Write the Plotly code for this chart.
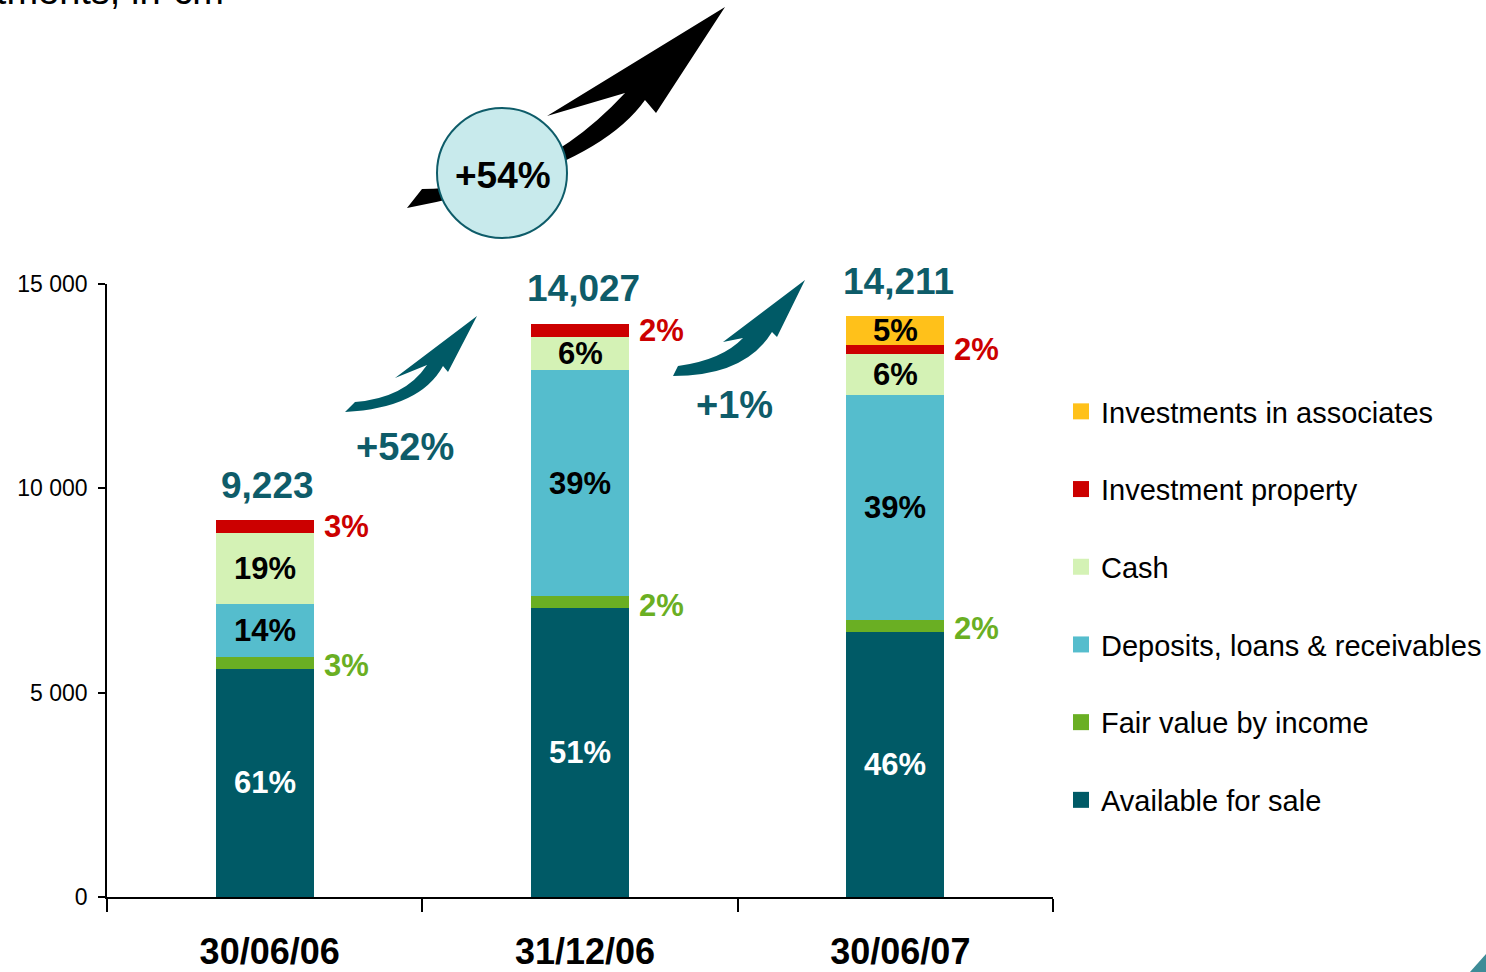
import plotly.graph_objects as go

# ---------------- data ----------------
categories = ["30/06/06", "31/12/06", "30/06/07"]
available_for_sale = [5580, 7070, 6490]
fair_value_by_income = [300, 295, 295]
deposits_loans = [1280, 5530, 5505]
cash = [1745, 810, 1000]
investment_property = [318, 322, 220]
investments_in_associates = [0, 0, 701]

pct_afs = ["61%", "51%", "46%"]
pct_fv = ["3%", "2%", "2%"]
pct_dep = ["14%", "39%", "39%"]
pct_cash = ["19%", "6%", "6%"]
pct_ip = ["3%", "2%", "2%"]
pct_ia = ["", "", "5%"]

growth_labels = ["+52%", "+1%", "+54%"]
title_text = "Investments, in €m"
y_ticks = [0, 5000, 10000, 15000]
y_tick_text = ["0", "5 000", "10 000", "15 000"]

# ---------------- styles ----------------
FONT = "Liberation Sans, Arial, sans-serif"
C_AFS = "#005A66"
C_FV = "#6AAF23"
C_DEP = "#55BDCD"
C_CASH = "#D4F2B5"
C_IP = "#CC0000"
C_IA = "#FFC11A"
C_TEAL_TXT = "#0E5C69"

W, H = 1486, 972
ML, MR, MT, MB = 107, 433, 284, 75
PW, PH = W - ML - MR, H - MT - MB


def paper(px, py):
    return (px - ML) / PW, (H - MB - py) / PH


def fmt(p):
    x, y = paper(*p)
    return f"{x:.5f},{y:.5f}"


def path_cmds(cmds):
    """cmds: list of (letter, [points in pixels]); L segments are split per point."""
    parts = []
    for letter, pts in cmds:
        if letter in ("L", "M"):
            for k, p in enumerate(pts):
                parts.append(("M" if (letter == "M" and k == 0) else "L") + fmt(p))
        else:
            parts.append(letter + fmt(pts[0]) + " " + fmt(pts[1]))
    return "".join(parts) + "Z"


series = [
    ("Available for sale", available_for_sale, C_AFS),
    ("Fair value by income", fair_value_by_income, C_FV),
    ("Deposits, loans & receivables", deposits_loans, C_DEP),
    ("Cash", cash, C_CASH),
    ("Investment property", investment_property, C_IP),
    ("Investments in associates", investments_in_associates, C_IA),
]

fig = go.Figure()
for i, (name, vals, col) in enumerate(series):
    fig.add_trace(go.Bar(
        x=categories, y=vals, name=name, marker=dict(color=col, line=dict(width=0)),
        showlegend=False, hoverinfo="skip",
    ))
n = len(series)
for i, (name, vals, col) in enumerate(series):
    fig.add_trace(go.Scatter(
        x=[None], y=[None], mode="markers", name=name,
        marker=dict(symbol="square", size=16, color=col, line=dict(width=0)),
        legendgroup=name, legendrank=100 + (n - i), hoverinfo="skip",
    ))

annotations = []
bottoms = [0, 0, 0]
seg_info = []
for name, vals, col in series:
    mids = []
    for j, v in enumerate(vals):
        mids.append(bottoms[j] + v / 2)
        bottoms[j] += v
    seg_info.append(mids)
totals = bottoms[:]

inside = [(0, pct_afs, "white"), (2, pct_dep, "black"), (3, pct_cash, "black"), (5, pct_ia, "black")]
for idx, labels, col in inside:
    for j, lab in enumerate(labels):
        if not lab:
            continue
        annotations.append(dict(x=categories[j], y=seg_info[idx][j], xref="x", yref="y",
                                text=f"<b>{lab}</b>", showarrow=False,
                                xanchor="center", yanchor="middle",
                                font=dict(family=FONT, size=31, color=col)))

outside = [(1, pct_fv, C_FV, 3), (4, pct_ip, C_IP, 0)]
for idx, labels, col, ysh in outside:
    for j, lab in enumerate(labels):
        annotations.append(dict(x=categories[j], y=seg_info[idx][j], xref="x", yref="y",
                                text=f"<b>{lab}</b>", showarrow=False, xanchor="left",
                                yanchor="middle", xshift=57, yshift=-ysh,
                                font=dict(family=FONT, size=31, color=col)))

for j, t in enumerate(totals):
    annotations.append(dict(x=categories[j], y=t, xref="x", yref="y",
                            text=f"<b>{t:,.0f}</b>", showarrow=False, yshift=35, xshift=3,
                            xanchor="center", yanchor="middle",
                            font=dict(family=FONT, size=37, color=C_TEAL_TXT)))


def paper_text(px, py, text, size, color, bold=True, xanchor="center", yanchor="middle"):
    x, y = paper(px, py)
    annotations.append(dict(x=x, y=y, xref="paper", yref="paper",
                            text=f"<b>{text}</b>" if bold else text,
                            showarrow=False, xanchor=xanchor, yanchor=yanchor,
                            font=dict(family=FONT, size=size, color=color)))


paper_text(405, 447, growth_labels[0], 38, C_TEAL_TXT)
paper_text(734, 405, growth_labels[1], 38, C_TEAL_TXT)

shapes = []
# big black curved arrow
big_arrow = [
    ("M", [(407, 208), (422, 189)]),
    ("Q", [(536, 189), (625, 93)]),
    ("L", [(547, 116), (725, 7), (656, 113), (645, 100)]),
    ("Q", [(594, 172), (407, 208)]),
]
shapes.append(dict(type="path", xref="paper", yref="paper", path=path_cmds(big_arrow),
                   fillcolor="black", line=dict(width=0), layer="above"))
cx0, cy0 = paper(437, 238)
cx1, cy1 = paper(567, 108)
shapes.append(dict(type="circle", xref="paper", yref="paper", x0=cx0, y0=cy0, x1=cx1, y1=cy1,
                   fillcolor="#C8EAEC", line=dict(color="#0E5C69", width=2), layer="above"))
paper_text(503, 175, growth_labels[2], 37, "black")

arrow1 = [
    ("M", [(345, 412), (355, 402)]),
    ("Q", [(405, 398), (427, 365)]),
    ("L", [(395, 378), (477, 316), (448, 372), (443, 366)]),
    ("Q", [(420, 408), (345, 412)]),
]
arrow2 = [
    ("M", [(673, 376), (678, 366)]),
    ("Q", [(722, 360), (743, 338)]),
    ("L", [(723, 342), (805, 280), (777, 337), (772, 332)]),
    ("Q", [(745, 376), (673, 376)]),
]
for arr in (arrow1, arrow2):
    shapes.append(dict(type="path", xref="paper", yref="paper", path=path_cmds(arr),
                       fillcolor="#005A66", line=dict(width=0), layer="above"))

shapes.append(dict(type="path", xref="paper", yref="paper",
                   path=path_cmds([("M", [(1470, 972), (1486, 954), (1486, 972)])]),
                   fillcolor="#3E8C97", line=dict(width=0), layer="above"))

# cut-off title at the very top
paper_text(226, 14, title_text, 38, "black", bold=False, xanchor="right", yanchor="bottom")

lx, ly = paper(1061, 386)
fig.update_layout(
    width=W, height=H,
    margin=dict(l=ML, r=MR, t=MT, b=MB, pad=0, autoexpand=False),
    barmode="stack", bargap=0.69,
    plot_bgcolor="white", paper_bgcolor="white",
    font=dict(family=FONT, color="black"),
    showlegend=True,
    legend=dict(x=lx, y=ly, xanchor="left", yanchor="top", traceorder="grouped",
                tracegroupgap=37, font=dict(family=FONT, size=29, color="black"),
                bgcolor="rgba(0,0,0,0)", itemclick=False, itemdoubleclick=False),
    xaxis=dict(type="category", showline=True, linecolor="black", linewidth=2,
               ticks="outside", tickson="boundaries", ticklen=13, tickwidth=1.5, tickcolor="black",
               tickfont=dict(family=FONT, size=36, color="black"),
               tickprefix="<b>\u00a0", ticksuffix="</b>", ticklabelstandoff=22, automargin=False,
               showgrid=False, zeroline=False, fixedrange=True),
    yaxis=dict(range=[0, 15000], tickvals=y_ticks, ticktext=y_tick_text, showline=True,
               linecolor="black", linewidth=1.5, ticks="outside", ticklen=7, tickwidth=1.5,
               tickcolor="black", tickfont=dict(family=FONT, size=23, color="black"),
               ticklabelstandoff=6, automargin=False,
               showgrid=False, zeroline=False, fixedrange=True),
    annotations=annotations,
    shapes=shapes,
)

fig.write_html("out.html", config={"displayModeBar": False},
               post_script="document.body.style.margin='0';document.body.style.overflow='hidden';")
